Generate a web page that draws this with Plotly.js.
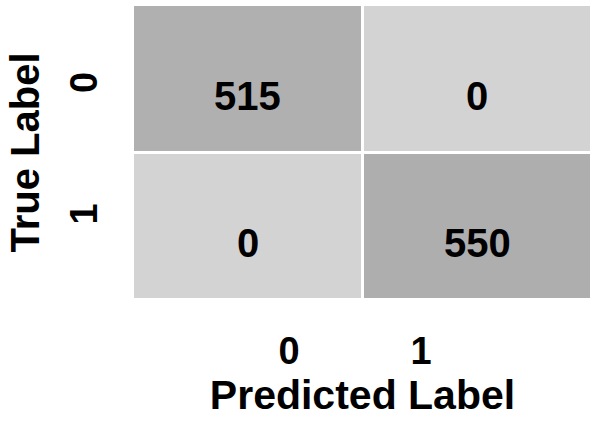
<!DOCTYPE html>
<html>
<head>
<meta charset="utf-8">
<script src="https://cdn.plot.ly/plotly-3.0.1.min.js"></script>
<style>html,body{margin:0;padding:0;background:#fff;}#chart{width:599px;height:425px;}</style>
</head>
<body>
<div id="chart"></div>
<script>
const predictedLabels = ["0", "1"];
const trueLabels = ["0", "1"];
const counts = [
  [515, 0],
  [0, 550]
];

const FONT = "Liberation Sans, Arial, sans-serif";
const xIdx = predictedLabels.map((_, i) => i);
const yIdx = trueLabels.map((_, i) => i);

// tick label placement offsets (in axis units) to mirror the reference layout
const xTickShift = [0.18, -0.245];
const yTickShift = [0.063, -0.045];

const annotations = [];
counts.forEach((row, r) => row.forEach((v, c) => {
  annotations.push({
    x: xIdx[c], y: yIdx[r], xref: "x", yref: "y", text: String(v),
    showarrow: false, yshift: -17,
    font: {family: FONT, size: 40, color: "#000", weight: "bold"}
  });
}));

const trace = {
  type: "heatmap",
  x: xIdx, y: yIdx, z: counts,
  colorscale: [[0, "#d3d3d3"], [1, "#aeaeae"]],
  zmin: 0, zmax: 550,
  showscale: false, xgap: 3, ygap: 3, hoverinfo: "skip"
};

const layout = {
  width: 599, height: 425,
  margin: {l: 133, r: 7, t: 5, b: 125},
  paper_bgcolor: "#fff", plot_bgcolor: "#fff",
  xaxis: {
    range: [-0.5, 1.5], showgrid: false, zeroline: false, showline: false,
    tickvals: xIdx.map((v, i) => v + xTickShift[i]), ticktext: predictedLabels,
    ticks: "outside", ticklen: 17, tickcolor: "rgba(0,0,0,0)",
    tickfont: {family: FONT, size: 38, color: "#000", weight: "bold"},
    title: {text: "Predicted Label", standoff: 4, font: {family: FONT, size: 41, color: "#000", weight: "bold"}}
  },
  yaxis: {
    range: [1.5, -0.5], showgrid: false, zeroline: false, showline: false,
    tickvals: yIdx.map((v, i) => v + yTickShift[i]), ticktext: trueLabels,
    tickangle: -90,
    ticks: "outside", ticklen: 20, tickcolor: "rgba(0,0,0,0)",
    tickfont: {family: FONT, size: 38, color: "#000", weight: "bold"},
    title: {text: "True Label", standoff: 10, font: {family: FONT, size: 40, color: "#000", weight: "bold"}}
  },
  annotations: annotations,
  showlegend: false
};

Plotly.newPlot("chart", [trace], layout, {displayModeBar: false, staticPlot: true});
</script>
</body>
</html>
